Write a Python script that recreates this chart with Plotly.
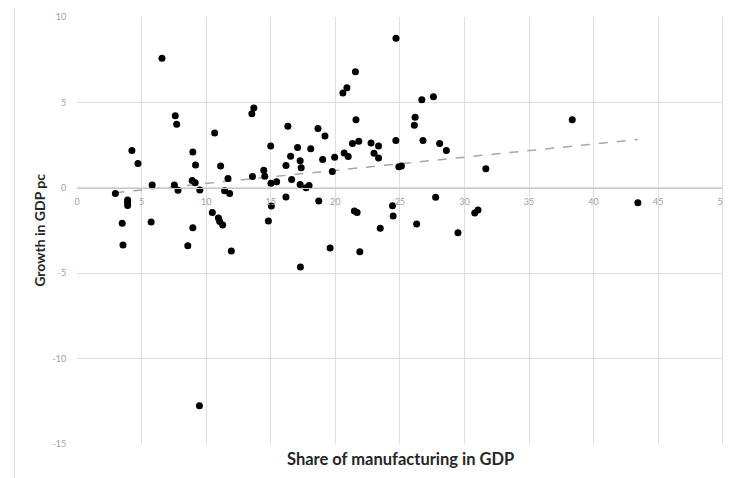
import numpy as np
import plotly.graph_objects as go

# Share of manufacturing in GDP (%)
share_manufacturing = [
    6.58, 2.97, 3.92, 3.92, 3.92, 4.25, 4.72, 5.82, 3.50, 5.74,
    7.61, 7.72, 7.54, 7.82, 8.97, 9.18, 8.92, 9.15, 9.51, 8.97,
    10.66, 11.12, 11.69, 11.43, 11.82, 10.48, 10.95, 11.05, 11.28, 3.56,
    8.58, 11.95, 17.30, 19.60, 21.90, 9.48, 29.50, 24.70, 21.56, 20.90,
    20.59, 26.70, 27.60, 13.69, 13.54, 26.18, 26.12, 21.60, 16.33, 18.66,
    19.20, 24.69, 26.79, 28.08, 28.60, 21.82, 21.33, 22.77, 23.35, 23.00,
    23.35, 20.69, 21.00, 19.95, 19.02, 19.77, 15.00, 17.08, 18.10, 16.54,
    17.28, 17.36, 16.18, 14.46, 14.54, 13.59, 16.62, 15.02, 15.46, 17.28,
    17.74, 17.97, 24.92, 25.12, 16.18, 18.72, 15.05, 21.48, 21.69, 24.43,
    24.48, 14.82, 23.48, 26.30, 30.80, 31.05, 38.35, 31.66, 43.43, 27.77,
]
# Growth in GDP per capita (%)
growth_gdp_pc = [
    7.59, -0.33, -0.72, -0.85, -1.03, 2.18, 1.42, 0.16, -2.08, -2.00,
    4.22, 3.72, 0.16, -0.15, 2.10, 1.34, 0.43, 0.29, -0.13, -2.34,
    3.21, 1.28, 0.55, -0.17, -0.33, -1.44, -1.77, -1.98, -2.18, -3.35,
    -3.39, -3.70, -4.63, -3.52, -3.75, -12.76, -2.63, 8.76, 6.79, 5.86,
    5.55, 5.16, 5.33, 4.67, 4.34, 4.13, 3.66, 3.99, 3.60, 3.47,
    3.04, 2.77, 2.77, 2.59, 2.18, 2.73, 2.59, 2.63, 2.45, 2.03,
    1.75, 2.04, 1.83, 1.79, 1.66, 0.96, 2.45, 2.36, 2.28, 1.85,
    1.58, 1.17, 1.31, 1.03, 0.68, 0.66, 0.49, 0.27, 0.35, 0.20,
    0.00, 0.14, 1.23, 1.27, -0.54, -0.78, -1.07, -1.36, -1.44, -1.05,
    -1.65, -1.94, -2.37, -2.12, -1.48, -1.30, 3.99, 1.11, -0.88, -0.56,
]
x_ticks = [0, 5, 10, 15, 20, 25, 30, 35, 40, 45, 50]
y_ticks = [-15, -10, -5, 0, 5, 10]

x_title = "Share of manufacturing in GDP"
y_title = "Growth in GDP pc"

# Linear trendline (least squares, as in the spreadsheet)
xa = np.array(share_manufacturing)
ya = np.array(growth_gdp_pc)
slope, intercept = np.polyfit(xa, ya, 1)
trend_x = [xa.min(), xa.max()]
trend_y = [intercept + slope * v for v in trend_x]

# the page body has an 8px margin: figure origin sits at page (8, 8)
OFF = 8
W, H = 731 - OFF, 478 - OFF
# plot area in page pixels: x 77..728, y 16..444
L, R, T, B = 77 - OFF, 731 - 728, 16 - OFF, 478 - 444
pw, ph = W - L - R, H - T - B

def px_x(p):
    return (p - OFF - L) / pw

def px_y(p):
    return (H - B - (p - OFF)) / ph

fig = go.Figure()
fig.add_trace(go.Scatter(
    x=trend_x, y=trend_y, mode="lines",
    line=dict(color="#a6a6a6", width=1.5, dash="dash"),
    hoverinfo="skip", showlegend=False,
))
fig.add_trace(go.Scatter(
    x=share_manufacturing, y=growth_gdp_pc, mode="markers",
    marker=dict(color="#000000", size=7),
    showlegend=False,
))

tick_font = dict(family="Lato, 'Open Sans', sans-serif", size=9, color="#a0a0a0")
fig.update_layout(
    width=W, height=H,
    margin=dict(l=L, r=R, t=T, b=B, pad=0),
    paper_bgcolor="white", plot_bgcolor="white",
    xaxis=dict(
        range=[0, 50.1], tickvals=x_ticks, ticktext=[str(v) for v in x_ticks],
        anchor="free", position=0.6,
        showgrid=True, gridcolor="#dedede", gridwidth=1,
        zeroline=False, showline=True, linecolor="#c8c8c8", linewidth=1,
        ticks="outside", ticklen=5, tickcolor="rgba(0,0,0,0)",
        tickfont=tick_font, fixedrange=True, ticklabeloverflow="allow",
    ),
    yaxis=dict(
        range=[-15, 10], tickvals=y_ticks, ticktext=[str(v) for v in y_ticks],
        showgrid=True, gridcolor="#dedede", gridwidth=1,
        zeroline=False, showline=False,
        ticks="outside", ticklen=8, tickcolor="rgba(0,0,0,0)",
        tickfont=tick_font, fixedrange=True,
    ),
    shapes=[dict(
        type="rect", xref="paper", yref="paper",
        x0=px_x(14), x1=px_x(760), y0=px_y(500), y1=px_y(4),
        line=dict(color="#d9d9d9", width=1), fillcolor="rgba(0,0,0,0)",
        layer="below",
    )],
    annotations=[
        dict(text=x_title, xref="paper", yref="paper",
             x=px_x(403), y=px_y(459), xanchor="center", yanchor="middle",
             showarrow=False,
             font=dict(family="Lato, 'Open Sans', sans-serif", size=16.5, color="#262626", weight="bold")),
        dict(text=y_title, xref="paper", yref="paper",
             x=px_x(39), y=px_y(230), xanchor="center", yanchor="middle",
             textangle=-90, showarrow=False,
             font=dict(family="Lato, 'Open Sans', sans-serif", size=14, color="#262626", weight="bold")),
    ],
)

fig.write_html("out.html")
